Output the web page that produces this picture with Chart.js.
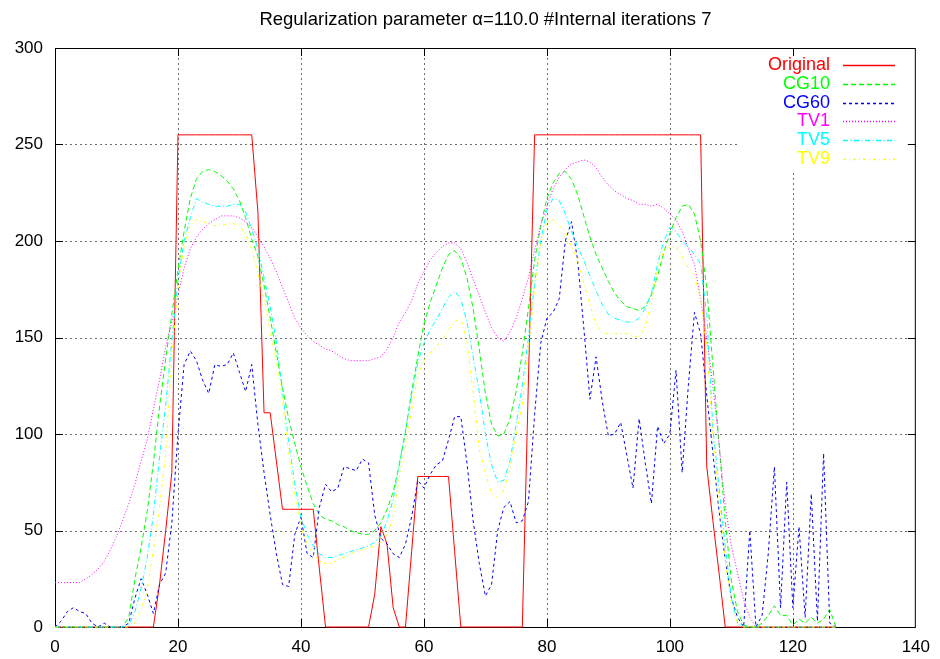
<!DOCTYPE html>
<html lang="en">
<head>
<meta charset="UTF-8">
<title>Regularization parameter α=110.0</title>
<script src="https://cdn.jsdelivr.net/npm/chart.js@4.4.0/dist/chart.umd.min.js"></script>
<style>
  html, body { margin: 0; padding: 0; background: #fff; }
  #wrap { width: 940px; height: 659px; }
</style>
</head>
<body>
<div id="wrap"><canvas id="myChart" width="940" height="659"></canvas></div>
<script>
// sample positions (pixel index along the profile)
var xs = [
  0,1,2,3,4,5,6,7,8,9,10,11,12,13,14,15,16,17,18,19,
  20,21,22,23,24,25,26,27,28,29,30,31,32,33,34,35,36,37,38,39,
  40,41,42,43,44,45,46,47,48,49,50,51,52,53,54,55,56,57,58,59,
  60,61,62,63,64,65,66,67,68,69,70,71,72,73,74,75,76,77,78,79,
  80,81,82,83,84,85,86,87,88,89,90,91,92,93,94,95,96,97,98,99,
  100,101,102,103,104,105,106,107,108,109,110,111,112,113,114,115,116,117,118,119,
  120,121,122,123,124,125,126,127
];

var original = [
  0,0,0,0,0,0,0,0,0,0, 0,0,0,0,0,0,0,22,50,80,
  255,255,255,255,255,255,255,255,255,255, 255,255,255,215,111,111,86,61,61,61,
  61,61,61,30,0,0,0,0,0,0, 0,0,17,52,43,10,0,0,39,78,
  78,78,78,78,78,39,0,0,0,0, 0,0,0,0,0,0,0,128,255,255,
  255,255,255,255,255,255,255,255,255,255, 255,255,255,255,255,255,255,255,255,255,
  255,255,255,255,255,255,83,55,28,0, 0,0,0,0,0,0,0,0,0,0,
  0,0,0,0,0,0,0,0
];

var cg10 = [
  0,0,0,0,0,0,0,0,0,0, 0,0,5,25,41,60,85,114,139,162,
  185,205,222,232,236,237,236,234,231,227, 221,212,201,192,177,160,142,124,108,95,
  83,73,64,58,56,55,53,52,50,49, 48,48,50,54,61,70,84,101,122,140,
  157,168,177,186,193,195,191,181,165,144, 121,105,99,100,108,122,142,165,190,208,
  222,230,235,236,232,224,213,202,193,186, 179,173,169,166,165,164,166,172,182,194,
  204,212,218,219,214,200,176,135,95,55, 24,8,1,0,0,2,6,11,6,6,
  1,4,2,5,2,4,9,0
];

var cg60 = [
  0,3,8,10,8,7,2,0,2,0, 0,0,2,15,25,17,7,22,28,54,
  100,136,143,138,128,121,136,135,136,142, 132,122,136,105,80,58,38,22,21,48,
  57,38,36,62,74,70,72,83,82,81, 87,85,58,46,43,38,36,43,57,76,
  72,79,84,86,97,109,109,85,55,33, 16,22,50,62,65,54,55,65,110,147,
  160,163,170,200,210,190,155,118,140,117, 99,100,106,89,72,108,85,64,104,95,
  100,133,80,125,163,152,120,90,60,35, 15,5,0,50,0,6,38,83,10,75,
  10,52,5,69,3,90,2,0
];

var tv1 = [
  23,23,23,23,23,25,27,30,34,40, 47,55,64,74,86,97,113,128,145,158,
  172,186,196,202,206,209,211,213,213,213, 212,210,207,202,197,191,184,176,168,160,
  155,151,148,146,144,143,141,139,138,138, 138,138,139,140,144,150,158,163,169,178,
  184,190,194,197,199,199,196,189,180,172, 163,155,150,148,153,160,170,181,195,208,
  218,227,233,237,240,241,242,241,238,233, 229,226,224,222,221,219,219,218,219,217,
  214,211,205,196,188,170,150,125,95,63, 42,28,14,5,0,0,0,0,0,0,
  0,0,0,0,0,0,0,0
];

var tv5 = [
  0,0,0,0,0,0,0,0,0,0, 0,0,1,8,20,36,58,88,115,148,
  180,200,212,222,220,219,218,218,218,219, 219,215,206,196,181,166,148,122,96,74,
  57,48,42,38,36,36,37,38,39,40, 41,42,44,47,55,66,85,102,120,137,
  147,154,159,165,171,174,170,158,140,122, 100,84,75,76,86,105,125,150,178,200,
  216,222,221,214,205,197,190,182,174,167, 162,160,159,158,158,160,165,173,188,200,
  207,205,200,197,193,188,162,103,72,42, 15,2,0,0,0,0,0,0,0,0,
  0,0,0,0,0,0,0,0
];

var tv9 = [
  0,0,0,0,0,0,0,0,0,0, 0,0,0,2,9,19,40,62,90,140,
  176,197,208,211,210,209,208,208,209,209, 208,203,196,183,170,153,138,118,90,68,
  52,43,38,34,33,33,35,36,38,39, 40,41,42,44,48,57,78,93,112,130,
  138,142,145,149,154,158,160,148,122,92, 80,69,67,71,82,100,115,145,175,198,
  210,211,208,205,197,190,178,167,157,152, 152,152,152,152,151,150,156,168,185,195,
  197,197,192,186,182,170,145,100,65,35, 12,2,0,0,0,0,0,0,0,0,
  0,0,0,0,0,0,0,0
];

var seriesNames = ['Original', 'CG10', 'CG60', 'TV1', 'TV5', 'TV9'];
var seriesValues = [original, cg10, cg60, tv1, tv5, tv9];
var seriesColors = ['#ff0000', '#00ff00', '#0000ff', '#ff00ff', '#00ffff', '#ffff00'];
var seriesDash = [[], [5, 3], [3, 3], [1, 2], [5, 2.5, 1, 2.5], [3, 3, 1, 3]];

var xTicks = [0, 20, 40, 60, 80, 100, 120, 140];
var yTicks = [0, 50, 100, 150, 200, 250, 300];

var titleText = 'Regularization parameter \u03b1=110.0 #Internal iterations 7';
var fontFamily = '"Liberation Sans", Arial, Helvetica, sans-serif';

// gnuplot-like frame: dotted grid, border with inward ticks, key and title
var gnuplotFrame = {
    id: 'gnuplotFrame',
    beforeDatasetsDraw: function (chart) {
        var ctx = chart.ctx;
        var area = chart.chartArea;
        var sx = chart.scales.x, sy = chart.scales.y;
        ctx.save();

        ctx.strokeStyle = '#707070';
        ctx.lineWidth = 1;
        ctx.setLineDash([2, 3]);
        xTicks.slice(1, -1).forEach(function (v) {
            var px = Math.round(sx.getPixelForValue(v)) + 0.5;
            ctx.beginPath();
            ctx.moveTo(px, area.top);
            ctx.lineTo(px, area.bottom);
            ctx.stroke();
        });
        yTicks.slice(1, -1).forEach(function (v) {
            var py = Math.round(sy.getPixelForValue(v)) + 0.5;
            ctx.beginPath();
            ctx.moveTo(area.left, py);
            ctx.lineTo(area.right, py);
            ctx.stroke();
        });
        ctx.setLineDash([]);

        // the key sits on a blank patch
        ctx.fillStyle = '#ffffff';
        ctx.fillRect(740, 52, 167, 118);

        // border
        ctx.strokeStyle = '#000000';
        ctx.lineWidth = 1;
        ctx.strokeRect(area.left + 0.5, area.top + 0.5, area.right - area.left - 1, area.bottom - area.top);

        // inward ticks on all four sides
        var tl = 8;
        ctx.beginPath();
        xTicks.slice(1, -1).forEach(function (v) {
            var px = Math.round(sx.getPixelForValue(v)) + 0.5;
            ctx.moveTo(px, area.bottom);
            ctx.lineTo(px, area.bottom - tl);
            ctx.moveTo(px, area.top);
            ctx.lineTo(px, area.top + tl);
        });
        yTicks.slice(1, -1).forEach(function (v) {
            var py = Math.round(sy.getPixelForValue(v)) + 0.5;
            ctx.moveTo(area.left, py);
            ctx.lineTo(area.left + tl, py);
            ctx.moveTo(area.right, py);
            ctx.lineTo(area.right - tl, py);
        });
        ctx.stroke();

        ctx.restore();
    },
    afterDraw: function (chart) {
        var ctx = chart.ctx;
        var area = chart.chartArea;
        ctx.save();

        // title
        ctx.fillStyle = '#000000';
        ctx.font = '18.5px ' + fontFamily;
        ctx.textAlign = 'center';
        ctx.textBaseline = 'middle';
        ctx.fillText(titleText, (area.left + area.right) / 2, 20);

        // key
        ctx.font = '18px ' + fontFamily;
        ctx.textAlign = 'right';
        ctx.lineWidth = 1.3;
        for (var i = 0; i < seriesNames.length; i++) {
            var ky = 65 + i * 18.8;
            ctx.fillStyle = seriesColors[i];
            ctx.fillText(seriesNames[i], 830, ky);
            ctx.strokeStyle = seriesColors[i];
            ctx.setLineDash(seriesDash[i]);
            ctx.beginPath();
            ctx.moveTo(843, Math.round(ky) + 0.5);
            ctx.lineTo(895, Math.round(ky) + 0.5);
            ctx.stroke();
        }
        ctx.restore();
    }
};

function buildDatasets() {
    var sets = [];
    for (var i = 0; i < seriesNames.length; i++) {
        var pts = [];
        for (var j = 0; j < xs.length; j++) {
            pts.push({ x: xs[j], y: seriesValues[i][j] });
        }
        sets.push({
            label: seriesNames[i],
            data: pts,
            borderColor: seriesColors[i],
            backgroundColor: seriesColors[i],
            borderDash: seriesDash[i],
            borderWidth: 1,
            pointRadius: 0,
            tension: 0,
            fill: false,
            clip: false,
            order: seriesNames.length - 1 - i
        });
    }
    return sets;
}

var ctx = document.getElementById('myChart').getContext('2d');
var myChart = new Chart(ctx, {
    type: 'line',
    data: { datasets: buildDatasets() },
    options: {
        responsive: false,
        animation: false,
        devicePixelRatio: 1,
        layout: { padding: { top: 48, right: 22, left: 0, bottom: 0 } },
        plugins: {
            legend: { display: false },
            tooltip: { enabled: false },
            title: { display: false }
        },
        scales: {
            x: {
                type: 'linear',
                min: 0,
                max: 140,
                afterFit: function (scale) { scale.height = 32; },
                afterBuildTicks: function (scale) {
                    scale.ticks = xTicks.map(function (v) { return { value: v }; });
                },
                grid: { display: false, drawTicks: false },
                border: { display: false },
                ticks: {
                    padding: 10,
                    color: '#000000',
                    maxRotation: 0,
                    font: { family: fontFamily, size: 17 }
                }
            },
            y: {
                type: 'linear',
                min: 0,
                max: 300,
                afterFit: function (scale) { scale.width = 55; },
                afterBuildTicks: function (scale) {
                    scale.ticks = yTicks.map(function (v) { return { value: v }; });
                },
                grid: { display: false, drawTicks: false },
                border: { display: false },
                ticks: {
                    padding: 12,
                    color: '#000000',
                    font: { family: fontFamily, size: 17 }
                }
            }
        }
    },
    plugins: [gnuplotFrame]
});
</script>
</body>
</html>
